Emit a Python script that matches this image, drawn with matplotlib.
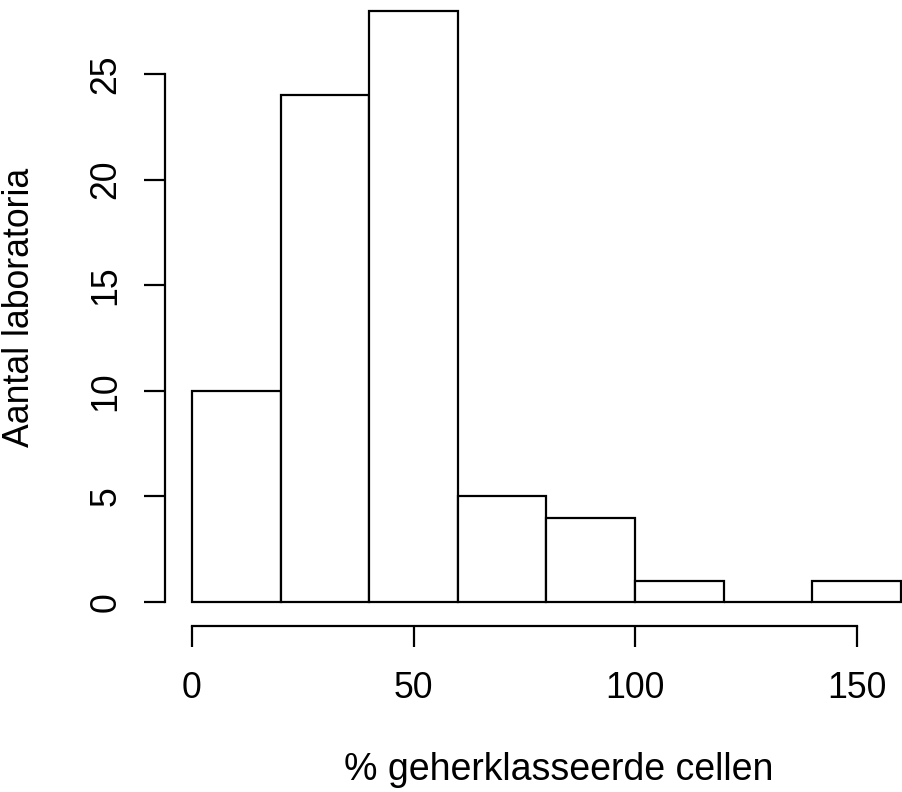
import matplotlib
matplotlib.use("Agg")
import matplotlib.pyplot as plt
import numpy as np

plt.rcParams['font.family'] = ['Liberation Sans', 'DejaVu Sans']

bin_edges = [0, 20, 40, 60, 80, 100, 120, 140, 160]
counts = [10, 24, 28, 5, 4, 1, 0, 1]
x_ticks = [0, 50, 100, 150]
y_ticks = [0, 5, 10, 15, 20, 25]
xlabel = "% geherklasseerde cellen"
ylabel = "Aantal laboratoria"

W, H = 903, 792
fig = plt.figure(figsize=(W / 100, H / 100), dpi=100)
x0_px, x1_px = 192, 901
y0_px, y1_px = 602, 10.6
ax = fig.add_axes([x0_px / W, 1 - y0_px / H, (x1_px - x0_px) / W, (y0_px - y1_px) / H])

lefts = np.array(bin_edges[:-1])
widths = np.diff(bin_edges)
ax.bar(lefts, counts, width=widths, align='edge', facecolor='white',
       edgecolor='black', linewidth=1.6, clip_on=False)

ax.set_xlim(0, 160)
ax.set_ylim(0, 28)

for s in ['top', 'right']:
    ax.spines[s].set_visible(False)
ax.spines['left'].set_position(('outward', 27 * 0.72))
ax.spines['bottom'].set_position(('outward', 24 * 0.72))
ax.spines['left'].set_bounds(0, 25)
ax.spines['bottom'].set_bounds(0, 150)
for s in ['left', 'bottom']:
    ax.spines[s].set_linewidth(1.6)

fs = 25.7
ax.set_xticks(x_ticks)
ax.set_yticks(y_ticks)
ax.tick_params(axis='both', direction='out', length=21 * 0.72, width=1.6,
               labelsize=fs)
ax.tick_params(axis='x', pad=17)
ax.tick_params(axis='y', pad=14.8)
for lab in ax.get_yticklabels():
    lab.set_rotation(90)
    lab.set_va('center')

ax.set_xlabel(xlabel, fontsize=27)
ax.set_ylabel(ylabel, fontsize=fs)
ax.xaxis.set_label_coords((559 - x0_px) / (x1_px - x0_px), -(769.5 - y0_px) / (y0_px - y1_px))
ax.xaxis.label.set_va('center')
ax.yaxis.set_label_coords(-(x0_px - 19.5) / (x1_px - x0_px), (y0_px - 307.5) / (y0_px - y1_px))
ax.yaxis.label.set_va('center')

fig.savefig("out.png", dpi=100)
